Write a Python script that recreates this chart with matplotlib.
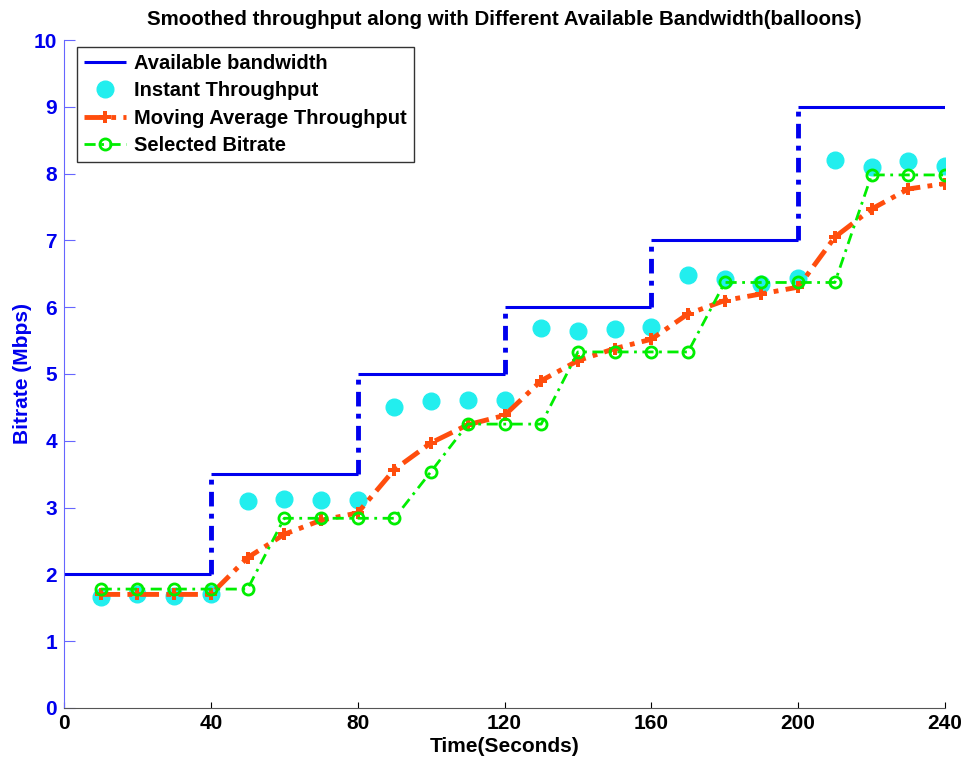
import matplotlib
matplotlib.use("Agg")
import matplotlib.pyplot as plt

plt.rcParams['font.family'] = ['Liberation Sans', 'DejaVu Sans']

time_s = [10, 20, 30, 40, 50, 60, 70, 80, 90, 100, 110, 120,
          130, 140, 150, 160, 170, 180, 190, 200, 210, 220, 230, 240]
instant = [1.66, 1.70, 1.67, 1.70, 3.10, 3.13, 3.11, 3.11, 4.51, 4.60, 4.61, 4.61,
           5.69, 5.64, 5.67, 5.70, 6.48, 6.42, 6.35, 6.43, 8.20, 8.10, 8.19, 8.12]
moving_avg = [1.70, 1.70, 1.70, 1.70, 2.25, 2.60, 2.81, 2.92, 3.57, 3.97, 4.24, 4.38,
              4.90, 5.20, 5.38, 5.52, 5.90, 6.10, 6.20, 6.30, 7.05, 7.47, 7.77, 7.85]
selected = [1.78, 1.78, 1.78, 1.78, 1.78, 2.84, 2.84, 2.84, 2.84, 3.54, 4.25, 4.25,
            4.25, 5.33, 5.33, 5.33, 5.33, 6.37, 6.37, 6.37, 6.37, 7.98, 7.98, 7.98]

bw_edges = [0, 40, 80, 120, 160, 200, 240]
bw_levels = [2, 3.5, 5, 6, 7, 9]

xticks = [0, 40, 80, 120, 160, 200, 240]
yticks = [0, 1, 2, 3, 4, 5, 6, 7, 8, 9, 10]

fig = plt.figure(figsize=(9.65, 7.62), dpi=100)
ax = fig.add_axes([0.0663, 0.0709, 0.9130, 0.8766])

bw_color = '#0000ee'
for i, lvl in enumerate(bw_levels):
    ax.plot([bw_edges[i], bw_edges[i + 1]], [lvl, lvl], color=bw_color, lw=2.2,
            solid_capstyle='butt', label='Available bandwidth' if i == 0 else None, zorder=2)
for i in range(1, len(bw_levels)):
    ax.plot([bw_edges[i], bw_edges[i]], [bw_levels[i - 1], bw_levels[i]], color=bw_color,
            lw=3.5, linestyle=(0, (3, 1.5, 1, 1.5)), zorder=2)

ax.plot(time_s, instant, linestyle='none', marker='o', markersize=12,
        color='#22eeee', markeredgecolor='#22eeee', label='Instant Throughput', zorder=3)
ax.plot(time_s, moving_avg, linestyle=(0, (4, 1.5, 1, 1.5)), lw=3.5, color='#ff4d0d',
        marker='P', markersize=8, markeredgewidth=0, label='Moving Average Throughput', zorder=4)
ax.plot(time_s, selected, linestyle=(0, (4, 2, 1, 2)), lw=2, color='#00ee00',
        marker='o', markersize=8, markerfacecolor='none', markeredgewidth=2,
        label='Selected Bitrate', zorder=5)

ax.set_xlim(0, 240)
ax.set_ylim(0, 10)
ax.set_xticks(xticks)
ax.set_yticks(yticks)
ax.tick_params(axis='x', direction='in', length=4, labelsize=15, colors='black', pad=4)
ax.tick_params(axis='y', direction='in', length=8, labelsize=15, colors='#6666ff',
               labelcolor='#0000ee', pad=5)
for lab in ax.get_xticklabels() + ax.get_yticklabels():
    lab.set_fontweight('bold')

ax.spines['top'].set_visible(False)
ax.spines['right'].set_visible(False)
ax.spines['left'].set_color('#6666ff')
ax.spines['bottom'].set_color('#555555')

ax.set_xlabel('Time(Seconds)', fontsize=15, fontweight='bold', labelpad=3)
ax.set_ylabel('Bitrate (Mbps)', fontsize=15, fontweight='bold', color='#0000ee', labelpad=1)
ax.set_title('Smoothed throughput along with Different Available Bandwidth(balloons)',
             fontsize=14.8, fontweight='bold', pad=11)

leg = ax.legend(loc='upper left', bbox_to_anchor=(0.0145, 0.99),
                prop={'weight': 'bold', 'size': 14.5}, frameon=True, fancybox=False,
                edgecolor='black', handlelength=2.1, borderpad=0.35, labelspacing=0.42,
                handletextpad=0.4, borderaxespad=0.0)
leg.get_frame().set_linewidth(1.0)

fig.savefig('out.png', dpi=100)
